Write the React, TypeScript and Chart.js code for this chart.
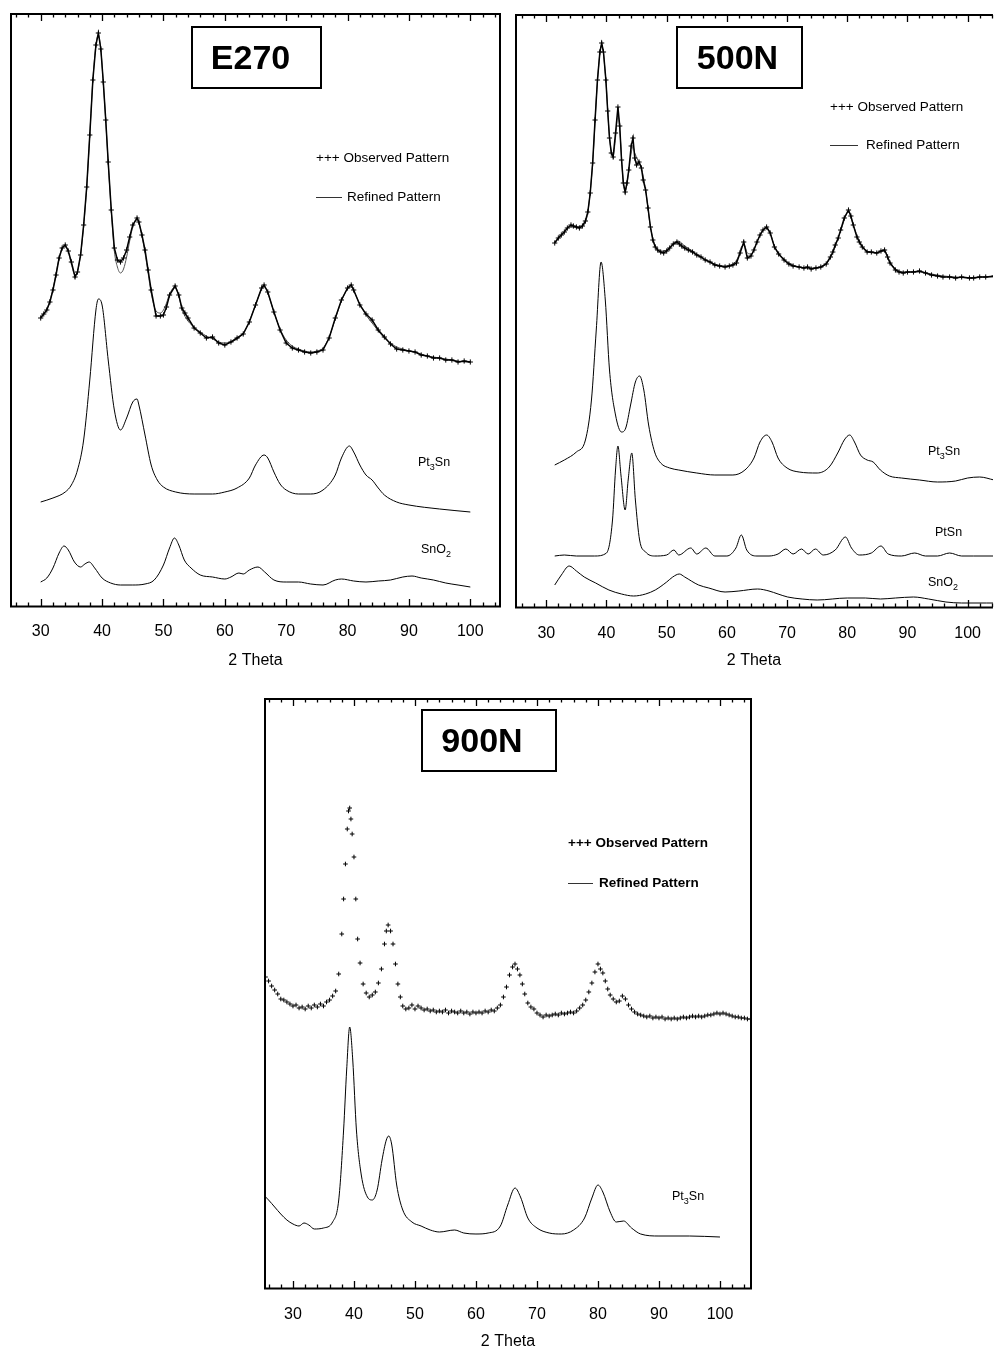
import { useEffect, useRef } from 'react';
import { Chart, registerables } from 'chart.js';
Chart.register(...registerables);

type Pt = [number, number];

const FONT = "'Liberation Sans', Arial, Helvetica, sans-serif";
const tickValues = [30, 40, 50, 60, 70, 80, 90, 100];
const axisTitle = '2 Theta';
const legendObserved = '+++ Observed Pattern';
const legendRefined = 'Refined Pattern';

// ---------- E270 (intensity, a.u.) ----------
const e270Observed: Pt[] = [[30,289],[30.5,293],[31,297],[31.5,305],[32,317],[32.5,332],[33,349],[33.5,359],[34,362],[34.5,356],[35,345],[35.6,330],[36,335],[36.5,352],[37,382],[37.5,420],[38,472],[38.5,527],[39,562],[39.4,574],[39.8,558],[40.2,525],[40.6,487],[41,445],[41.5,397],[42,359],[42.5,347],[43,345],[43.5,349],[44,357],[44.5,370],[45,382],[45.7,389],[46,385],[46.5,372],[47,357],[47.5,337],[48,317],[48.8,291],[49.5,291],[50,292],[50.5,300],[51,312],[51.9,321],[52.5,312],[53,299],[53.5,294],[54,289],[55,279],[56,274],[57,269],[58,270],[59,264],[60,262],[61,265],[62,269],[63,273],[64,285],[65,302],[66,319],[66.4,322],[67,315],[68,295],[69,277],[70,264],[71,259],[72,257],[73,255],[74,254],[75,255],[76,257],[77,269],[78,289],[79,307],[80,319],[80.6,322],[81,317],[82,302],[83,293],[84,287],[85,277],[86,270],[87,263],[88,258],[89,257],[90,256],[91,255],[92,252],[93,251],[94,249],[95,249],[96,247],[97,247],[98,245],[99,246],[100,245]];
const e270Refined: Pt[] = [[30,290],[31,298],[32,318],[33,349],[33.5,359],[34,361],[34.5,355],[35,343],[35.6,332],[36,336],[36.5,352],[37,381],[37.5,420],[38,472],[38.5,527],[39,562],[39.4,572],[39.8,557],[40.2,524],[40.6,486],[41,444],[41.5,396],[42,356],[42.5,340],[43,334],[43.5,338],[44,350],[44.5,366],[45,380],[45.7,388],[46,384],[46.5,371],[47,354],[47.5,334],[48,314],[48.8,296],[49.5,294],[50,297],[50.5,304],[51,313],[51.9,320],[52.5,311],[53,298],[54,286],[55,280],[56,275],[57,271],[58,268],[59,265],[60,264],[61,265],[62,268],[63,274],[64,286],[65,302],[66,318],[66.4,321],[67,314],[68,295],[69,278],[70,267],[71,261],[72,258],[73,256],[74,255],[75,256],[76,259],[77,270],[78,288],[79,306],[80,318],[80.6,320],[81,316],[82,303],[83,292],[84,284],[85,276],[86,269],[87,264],[88,260],[89,258],[90,256],[91,255],[92,253],[93,251],[94,250],[95,249],[96,248],[97,247],[98,246],[99,245],[100,245]];
const e270Pt3Sn: Pt[] = [[30,105],[32,109],[34,115],[35,122],[36,137],[37,167],[38,227],[39,297],[39.4,308],[40,302],[41,247],[42,197],[43,177],[44,189],[45,205],[45.7,208],[46,202],[47,172],[48,142],[49,127],[50,120],[52,115],[55,113],[58,113],[60,115],[62,119],[64,129],[65,142],[66.4,152],[67,149],[68,135],[69,123],[70,117],[72,113],[74,113],[76,117],[78,132],[79,149],[80.3,161],[81,155],[82,142],[83,132],[84,127],[85,119],[86,112],[88,105],[90,102],[95,98],[100,95]];
const e270SnO2: Pt[] = [[30,25],[31,29],[32,39],[33,54],[33.8,61],[34.5,57],[35.5,45],[36.5,40],[37.2,43],[37.9,45],[38.8,39],[40,29],[41.4,24],[43,22],[45,22],[47,23],[48.5,27],[50,42],[51,59],[51.8,69],[52.5,62],[53.4,47],[54.5,39],[56,32],[58,30],[60,28],[61,30],[62.3,34],[63,33],[64,37],[65.4,40],[66.5,35],[68,27],[70,25],[72,25],[74,23],[76,22],[78,27],[79,28],[81,26],[83,25],[85,26],[87,27],[89,30],[90.5,31],[92,29],[94,27],[96,24],[98,22],[100,20]];

// ---------- 500N ----------
const n500Observed: Pt[] = [[31.4,365],[32,370],[32.5,373],[33,376],[33.5,380],[34.1,383],[34.5,382],[35,381],[35.5,380],[36,382],[36.5,387],[36.9,396],[37.3,415],[37.7,445],[38.1,488],[38.5,528],[38.9,556],[39.2,565],[39.5,556],[39.9,528],[40.2,497],[40.5,470],[40.8,455],[41.1,451],[41.5,475],[41.9,501],[42.2,482],[42.5,448],[42.8,425],[43.1,416],[43.4,425],[43.7,438],[44.1,462],[44.4,470],[44.7,450],[45,443],[45.4,446],[45.8,440],[46.1,428],[46.5,418],[46.9,400],[47.3,381],[47.7,368],[48.1,361],[48.5,358],[49,356],[49.5,355],[50,357],[50.5,360],[51.1,364],[51.7,366],[52.1,364],[52.5,362],[53,360],[53.6,358],[54.3,356],[55,353],[55.7,351],[56.4,348],[57.2,346],[58,343],[58.8,342],[59.7,341],[60.4,342],[61,343],[61.6,345],[62.2,355],[62.8,366],[63.4,350],[64,352],[64.5,358],[65,366],[65.5,373],[66,378],[66.6,381],[67.2,375],[67.9,361],[68.6,354],[69.5,348],[70.3,344],[71,342],[72,341],[72.8,340],[73.4,341],[74,339],[74.8,340],[75.6,341],[76.5,344],[77.2,351],[77.6,356],[78,363],[78.5,370],[78.9,378],[79.5,390],[80.2,398],[80.6,392],[81,383],[81.6,371],[82,366],[82.5,361],[83.3,356],[84,356],[84.9,355],[85.6,357],[86.2,358],[86.7,351],[87.1,345],[88,338],[88.6,336],[89.3,335],[90,336],[91,336],[92,337],[93,335],[94,333],[95,332],[95.9,331],[97,331],[98,330],[99,331],[100.3,330],[101,330],[102,331],[103,331],[104.4,332]];
const n500Refined: Pt[] = [[31.4,366],[32.5,373],[34,381],[35,381],[36,382],[36.9,396],[37.7,445],[38.5,527],[39.2,563],[39.9,527],[40.5,471],[41.1,452],[41.5,470],[41.9,493],[42.2,478],[42.8,425],[43.1,417],[43.7,437],[44.1,455],[44.4,461],[44.7,455],[45.2,448],[45.8,440],[46.5,418],[47.3,381],[48.1,362],[49,357],[50,358],[51,364],[51.9,367],[53,362],[54.3,357],[56,350],[58,344],[59.7,342],[61,344],[61.8,350],[62.5,362],[62.9,363],[63.4,355],[64,354],[65,366],[66,378],[66.6,380],[67.2,375],[67.9,362],[69.5,349],[71,343],[73,340],[75,340],[76.5,344],[77.6,355],[78.9,377],[80.2,396],[81,383],[82,367],[83.3,357],[84.9,355],[86.2,357],[87.1,346],[88.6,337],[90,336],[92,336],[94,334],[96,332],[98,331],[100,330],[102,331],[104.4,331]];
const n500Pt3Sn: Pt[] = [[31.4,143],[33,148],[35,156],[36.5,168],[37.5,208],[38.3,278],[39.1,346],[39.8,308],[40.5,238],[41.5,193],[42.5,176],[43.2,180],[44,203],[44.8,226],[45.5,232],[46.2,218],[47,183],[48,156],[49,145],[50.5,140],[52,138],[55,135],[58,133],[61,133],[63,138],[64.5,150],[65.5,166],[66.6,173],[67.5,166],[68.5,150],[70,140],[72,136],[75,135],[77,141],[78.5,156],[79.5,168],[80.4,173],[81.2,166],[82.2,153],[83.3,148],[84.3,146],[85.5,138],[87,132],[89,130],[92,128],[95,126],[98,127],[100,130],[102,131],[104.4,128]];
const n500PtSn: Pt[] = [[31.4,52],[33,53],[35,52],[38,52],[40,55],[41,88],[41.5,138],[41.9,162],[42.4,133],[43.1,98],[43.6,128],[44.2,155],[44.8,108],[45.5,68],[46.5,56],[48,52],[50,53],[51.2,58],[52,53],[54,60],[55,54],[56.5,60],[58,52],[60,52],[61.5,60],[62.4,73],[63.3,58],[65,52],[67,52],[68.5,54],[69.8,59],[71,54],[72.4,59],[73.5,54],[74.7,59],[76,53],[78,58],[79.7,71],[80.7,60],[82,53],[84,55],[85.6,62],[86.8,54],[89,52],[91.2,55],[93,52],[95,52],[97,55],[99,52],[101,52],[104.4,52]];
const n500SnO2: Pt[] = [[31.4,23],[32.5,33],[33.8,42],[35,37],[36.3,31],[38.2,25],[40.4,18],[42.5,14],[44.5,12],[46.5,14],[48.1,18],[50,26],[51,31],[52.1,34],[53,31],[55.3,23],[57,20],[59.7,16],[62,17],[65.1,19],[67,17],[68.5,14],[70.1,11],[72.5,9],[75,8],[80,10],[83,10],[85.5,9],[88,10],[91,11],[93.5,9],[96.4,6],[99,5],[103.1,5],[104.4,5]];

// ---------- 900N ----------
const n900Observed: Pt[] = [[25,318],[25.5,312],[26,308],[26.5,303],[27,299],[27.5,295],[28,290],[28.5,289],[29,287],[29.5,285],[30,283],[30.5,284],[31,281],[31.5,282],[32,280],[32.5,283],[33,281],[33.5,284],[34,282],[34.5,285],[35,283],[35.5,287],[36,289],[36.5,293],[37,298],[37.5,315],[38,355],[38.3,390],[38.6,425],[38.9,460],[39.1,478],[39.3,481],[39.5,470],[39.7,455],[40,432],[40.3,390],[40.6,350],[41,326],[41.5,305],[42,296],[42.5,292],[43,294],[43.5,297],[44,306],[44.5,320],[45,345],[45.3,358],[45.6,364],[46,358],[46.4,345],[46.8,325],[47.2,305],[47.6,292],[48,283],[48.5,280],[49,281],[49.5,284],[50,280],[50.5,283],[51,281],[51.5,279],[52,280],[52.5,278],[53,279],[53.5,277],[54,278],[54.5,277],[55,279],[55.5,276],[56,278],[56.5,277],[57,276],[57.5,278],[58,276],[58.5,277],[59,275],[59.5,277],[60,276],[60.5,277],[61,276],[61.5,278],[62,277],[62.5,279],[63,278],[63.5,281],[64,284],[64.5,292],[65,302],[65.5,314],[66,322],[66.4,325],[66.8,320],[67.2,314],[67.6,305],[68,295],[68.5,286],[69,282],[69.5,280],[70,276],[70.5,274],[71,272],[71.5,274],[72,273],[72.5,274],[73,275],[73.5,274],[74,276],[74.5,275],[75,276],[75.5,277],[76,276],[76.5,278],[77,281],[77.5,284],[78,289],[78.5,297],[79,306],[79.5,317],[80,325],[80.4,320],[80.8,316],[81.2,308],[81.6,300],[82,294],[82.5,290],[83,287],[83.5,288],[84,293],[84.5,290],[85,284],[85.5,280],[86,277],[86.5,275],[87,274],[87.5,273],[88,272],[88.5,273],[89,271],[89.5,272],[90,271],[90.5,272],[91,270],[91.5,271],[92,270],[92.5,271],[93,270],[93.5,271],[94,272],[94.5,271],[95,272],[95.5,273],[96,272],[96.5,273],[97,272],[97.5,273],[98,274],[98.5,274],[99,275],[99.5,276],[100,275],[100.5,276],[101,275],[101.5,274],[102,273],[102.5,272],[103,272],[103.5,271],[104,271],[104.5,270],[105,270]];
const n900Pt3Sn: Pt[] = [[25.2,94],[26,89],[27,82],[28,75],[29,69],[30,65],[31,63],[31.8,66],[32.6,64],[33.5,60],[35,61],[36.5,67],[37.5,89],[38.3,159],[38.8,219],[39.3,262],[39.8,229],[40.4,159],[41.2,114],[42.2,92],[43,89],[43.8,99],[44.6,129],[45.3,149],[45.7,153],[46.2,144],[47,104],[48,79],[49.5,67],[51,63],[52.5,59],[54,57],[56.5,59],[58,56],[60,55],[62,56],[64,63],[65.2,84],[66.4,101],[67.3,92],[68.5,71],[70,61],[72,56],[74,55],[76,59],[77.8,71],[79,91],[80,104],[80.8,97],[82,77],[83,67],[84.2,68],[85.5,61],[87,55],[90,53],[95,53],[100,52]];

type Part = [string, boolean];
const PT3SN: Part[] = [['Pt', false], ['3', true], ['Sn', false]];
const PTSN: Part[] = [['PtSn', false]];
const SNO2: Part[] = [['SnO', false], ['2', true]];

const xy = (a: Pt[]) => a.map(([x, y]) => ({ x, y }));

const observedStyle = (data: Pt[], line: boolean) => ({
  data: xy(data),
  showLine: line,
  borderColor: '#000',
  borderWidth: 1.5,
  pointStyle: 'cross',
  pointRadius: line ? 2.6 : 2.3,
  pointBorderWidth: 1,
  pointBorderColor: '#000',
  pointBackgroundColor: '#000',
  tension: 0,
});
const curveStyle = (data: Pt[], color: string) => ({
  data: xy(data),
  showLine: true,
  borderColor: color,
  borderWidth: 1,
  pointRadius: 0,
  cubicInterpolationMode: 'monotone',
});

const panels = [
  {
    key: 'E270', left: 0, top: 0, width: 510, height: 680,
    pad: { left: 10, right: 9, top: 13 }, axisH: 73, tickPad: 15, titlePad: 10,
    xMin: 25, xMax: 105, yMax: 594, frameRight: true, bold: false,
    box: { x: 182, y: 14, w: 129, h: 61, dx: -6 },
    legend: { x: 306, y1: 145, y2: 184, lw: 26, gap: 5 },
    labels: [{ parts: PT3SN, x: 408, y: 450 }, { parts: SNO2, x: 411, y: 537 }],
    datasets: [observedStyle(e270Observed, true), curveStyle(e270Refined, '#555'), curveStyle(e270Pt3Sn, '#000'), curveStyle(e270SnO2, '#000')],
  },
  {
    key: '500N', left: 505, top: 0, width: 492, height: 682,
    pad: { left: 10, right: 0, top: 14 }, axisH: 74, tickPad: 16, titlePad: 12,
    xMin: 24.8, xMax: 104.2, yMax: 594, frameRight: false, bold: false,
    box: { x: 162, y: 13, w: 125, h: 61, dx: -2 },
    legend: { x: 315, y1: 93, y2: 131, lw: 28, gap: 8 },
    labels: [{ parts: PT3SN, x: 413, y: 438 }, { parts: PTSN, x: 420, y: 519 }, { parts: SNO2, x: 413, y: 569 }],
    datasets: [observedStyle(n500Observed, true), curveStyle(n500Refined, '#555'), curveStyle(n500Pt3Sn, '#000'), curveStyle(n500PtSn, '#000'), curveStyle(n500SnO2, '#000')],
  },
  {
    key: '900N', left: 254, top: 688, width: 508, height: 663,
    pad: { left: 10, right: 10, top: 10 }, axisH: 62, tickPad: 16, titlePad: 0,
    xMin: 25.25, xMax: 105.25, yMax: 591, frameRight: true, bold: true,
    box: { x: 158, y: 12, w: 134, h: 61, dx: -7 },
    legend: { x: 304, y1: 145, y2: 185, lw: 25, gap: 6 },
    labels: [{ parts: PT3SN, x: 408, y: 499 }],
    datasets: [observedStyle(n900Observed, false), curveStyle(n900Pt3Sn, '#000')],
  },
];

function drawParts(ctx: CanvasRenderingContext2D, parts: Part[], x: number, y: number, size: number) {
  let cx = x;
  for (const [t, sub] of parts) {
    ctx.font = `${sub ? size * 0.72 : size}px ${FONT}`;
    ctx.fillText(t, cx, sub ? y + size * 0.4 : y);
    cx += ctx.measureText(t).width;
  }
}

const decoPlugin = {
  id: 'deco',
  afterDraw(chart: any, _args: any, o: any) {
    const { ctx, chartArea: a } = chart;
    const xs = chart.scales.x;
    ctx.save();
    ctx.strokeStyle = '#000';
    ctx.fillStyle = '#000';
    // frame
    ctx.lineWidth = 2;
    ctx.beginPath();
    ctx.moveTo(a.left + 1, a.bottom);
    ctx.lineTo(a.left + 1, a.top + 1);
    ctx.lineTo(a.right, a.top + 1);
    if (o.frameRight) {
      ctx.moveTo(a.right - 1, a.top);
      ctx.lineTo(a.right - 1, a.bottom);
    }
    ctx.moveTo(a.left, a.bottom - 0.5);
    ctx.lineTo(a.right, a.bottom - 0.5);
    ctx.stroke();
    // ticks, inward
    ctx.lineWidth = 1.3;
    ctx.beginPath();
    for (let v = Math.ceil(xs.min / 2) * 2; v <= xs.max; v += 2) {
      const px = Math.round(xs.getPixelForValue(v)) + 0.5;
      const len = v % 10 === 0 ? 7 : 3.5;
      ctx.moveTo(px, a.top + 1);
      ctx.lineTo(px, a.top + 1 + len);
      ctx.moveTo(px, a.bottom - 1);
      ctx.lineTo(px, a.bottom - 1 - len);
    }
    ctx.stroke();
    // title box
    const b = o.box;
    ctx.lineWidth = 2;
    ctx.strokeRect(a.left + b.x, a.top + b.y, b.w, b.h);
    ctx.font = `bold 34px ${FONT}`;
    ctx.textAlign = 'center';
    ctx.textBaseline = 'middle';
    ctx.fillText(o.title, a.left + b.x + b.w / 2 + b.dx, a.top + b.y + b.h / 2 + 2);
    // legend
    const l = o.legend;
    ctx.textAlign = 'left';
    ctx.font = `${o.bold ? 'bold ' : ''}13.5px ${FONT}`;
    ctx.fillText(legendObserved, a.left + l.x, a.top + l.y1);
    ctx.fillText(legendRefined, a.left + l.x + l.lw + l.gap, a.top + l.y2);
    ctx.lineWidth = 1;
    ctx.strokeStyle = '#333';
    ctx.beginPath();
    ctx.moveTo(a.left + l.x, a.top + l.y2 + 0.5);
    ctx.lineTo(a.left + l.x + l.lw, a.top + l.y2 + 0.5);
    ctx.stroke();
    // phase labels
    for (const lab of o.labels) drawParts(ctx, lab.parts, a.left + lab.x, a.top + lab.y, 12.5);
    ctx.restore();
  },
};

function Panel({ p }: { p: any }) {
  const ref = useRef<HTMLCanvasElement>(null);
  useEffect(() => {
    const chart = new Chart(ref.current as HTMLCanvasElement, {
      type: 'scatter',
      data: { datasets: p.datasets },
      plugins: [decoPlugin],
      options: {
        animation: false,
        responsive: false,
        devicePixelRatio: 1,
        events: [],
        layout: { autoPadding: false, padding: { left: p.pad.left, right: p.pad.right, top: p.pad.top, bottom: 0 } },
        plugins: {
          legend: { display: false },
          tooltip: { enabled: false },
          deco: { title: p.key, box: p.box, legend: p.legend, labels: p.labels, frameRight: p.frameRight, bold: p.bold },
        } as any,
        scales: {
          x: {
            type: 'linear',
            min: p.xMin,
            max: p.xMax,
            afterBuildTicks: (s: any) => { s.ticks = tickValues.map((v) => ({ value: v })); },
            afterFit: (s: any) => { s.height = p.axisH; },
            grid: { display: false, drawTicks: false },
            border: { display: false },
            ticks: { padding: p.tickPad, color: '#000', font: { family: FONT, size: 16 }, maxRotation: 0, autoSkip: false },
            title: { display: true, text: axisTitle, color: '#000', font: { family: FONT, size: 16 }, padding: { top: 0, bottom: p.titlePad } },
          },
          y: { display: false, min: 0, max: p.yMax },
        },
      } as any,
    });
    return () => chart.destroy();
  }, []);
  return (
    <div style={{ position: 'absolute', left: p.left, top: p.top, width: p.width, height: p.height }}>
      <canvas ref={ref} width={p.width} height={p.height} style={{ width: p.width, height: p.height, display: 'block' }} />
    </div>
  );
}

export default function App() {
  return (
    <div style={{ position: 'absolute', left: 0, top: 0, width: 997, height: 1351, background: '#fff', overflow: 'hidden' }}>
      {panels.map((p) => <Panel key={p.key} p={p} />)}
    </div>
  );
}
